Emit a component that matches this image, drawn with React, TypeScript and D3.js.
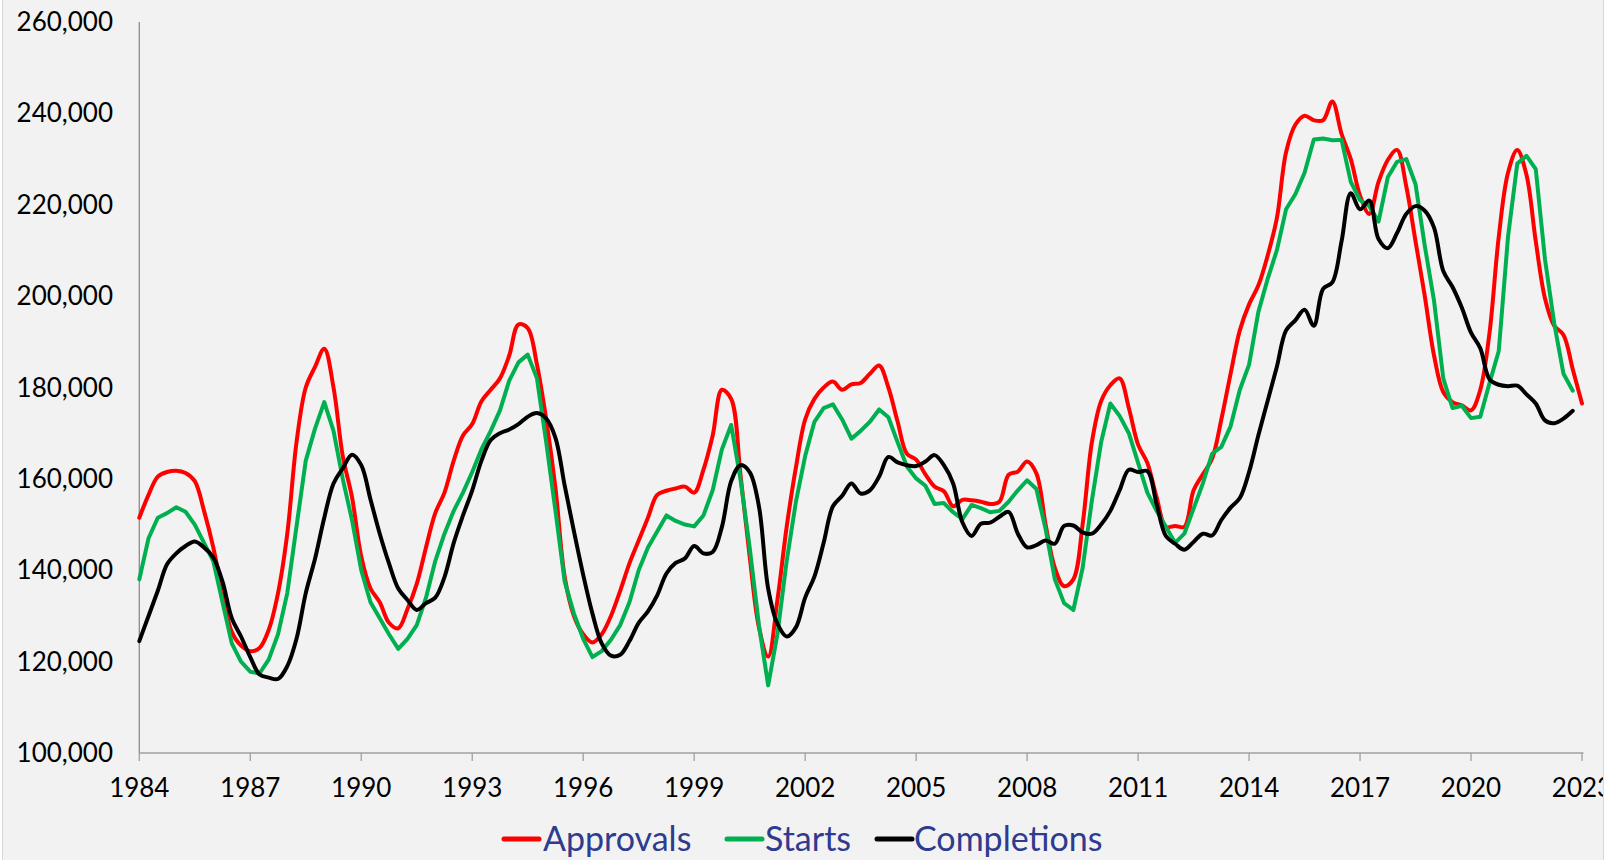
import * as d3 from 'd3';

// quarterly values in thousands, first point = 1984 Q1
const startYear = 1984;

const approvals = [
  151.5, 156.5, 160.5, 161.5,
  161.8, 161.3, 159.5, 153,
  145, 135, 126.5, 123.5,
  122.3, 123, 127, 135,
  148, 168, 180, 184.5,
  188.5, 180, 165, 156,
  143, 136, 133, 128.5,
  127.3, 131.5, 137, 145,
  152.5, 157, 164, 169.5,
  172, 177, 179.5, 182,
  187, 193.8, 193, 185,
  173, 158, 138.5, 130,
  126, 124.2, 126, 130,
  135.5, 141.5, 146.5, 151.5,
  156.5, 157.4, 157.9, 158.3,
  157, 162, 169.5, 179.5,
  177.5, 161, 143, 127.5,
  121.1, 133.5, 149.5, 162.5,
  173, 177.5, 180, 181.3,
  179.5, 180.7, 181, 183,
  184.8, 180, 172.5, 165.5,
  164.2, 161, 158.3, 157.3,
  154, 155.4, 155.3, 155,
  154.5, 155, 160.9, 161.6,
  163.8, 161.2, 150, 140.5,
  136.5, 138, 150, 168,
  177, 180.5, 182, 175.5,
  167.5, 163.5, 156, 149.5,
  149.7, 149.5, 157.5, 161,
  164.4, 173, 183, 192.5,
  198.2, 202.3, 208.8, 217,
  231.5, 237.5, 239.5, 238.5,
  238.5, 242.6, 235.5, 230,
  222, 218, 225, 229.8,
  232, 224, 212, 200,
  187, 179, 176.8, 176.1,
  175, 179.5, 192, 213,
  227, 232, 226.5, 212,
  199.5, 193.5, 191.5, 184,
  176.5,
];

const starts = [
  138, 147, 151.5, 152.5,
  153.8, 152.8, 150, 146,
  142, 133, 124, 120,
  117.8, 117.4, 120.5, 126,
  135, 149.6, 164, 171,
  176.8, 170.5, 160, 151,
  140, 133, 129.5, 126,
  122.8, 125, 128, 134,
  142, 148, 153, 157,
  161.5, 166.5, 170.5, 175,
  181.5, 185.5, 187.2, 182,
  168, 153, 137.5, 130.5,
  125, 121, 122.3, 124.8,
  128, 133, 140, 145,
  148.5, 152, 150.8, 150,
  149.6, 152, 157.5, 166.5,
  171.8, 160, 145, 128,
  114.8, 126, 142, 155,
  165, 172.5, 175.5, 176.3,
  173, 168.8, 170.5, 172.5,
  175.2, 173.5, 168, 162.7,
  160.1, 158.5, 154.5, 154.7,
  152.7, 151.2, 154.3, 153.6,
  152.7, 153, 155, 157.5,
  159.7, 157.8, 149, 138,
  132.8, 131.3, 140.5, 155.2,
  168, 176.5, 173.8, 170,
  163.5, 157, 153, 149.5,
  146, 148, 153.5, 159,
  165.5, 167, 171.5, 179.5,
  185, 196.5, 203.7, 210,
  219, 222.3, 227, 234.3,
  234.5, 234.1, 234.2, 225,
  221, 219.7, 216.3, 226,
  229.4, 230, 224.5, 211,
  199, 182, 175.5, 176,
  173.3, 173.6, 181, 188,
  213, 229, 230.7, 227.8,
  208, 194, 183, 179.3,
];

const completions = [
  124.5, 130, 135.5, 141.3,
  143.7, 145.3, 146.3, 145,
  142.8, 137.5, 129.5, 125.5,
  121, 117.2, 116.5, 116.2,
  119, 125, 135, 142.5,
  151.5, 159, 162.3, 165.3,
  163, 155.5, 148, 141.5,
  136, 133.5, 131.3, 132.8,
  134, 138.5, 146, 152,
  157.5, 164, 168.5, 170,
  170.8, 172, 173.6, 174.4,
  173.2, 169, 158.5, 148.5,
  139, 130.5, 124, 121.3,
  121.5, 124.5, 128.5, 131,
  134.5, 139.3, 141.6, 142.6,
  145.3, 143.7, 144, 149.5,
  159.5, 163, 161.5, 154,
  136, 128.3, 125.5, 127.5,
  134, 138.6, 146, 154,
  156.3, 159, 156.8, 157.5,
  160.5, 164.8, 163.6, 163,
  162.8, 163.8, 165.2, 163,
  159, 150.5, 147.5, 150.2,
  150.4, 151.7, 152.8, 148,
  145, 145.5, 146.5, 145.8,
  149.7, 149.8, 148.3, 148,
  150, 153, 157.5, 162,
  161.5, 161.7, 154.5, 147.5,
  145.8, 144.5, 146.2, 148,
  147.6, 151, 153.7, 155.8,
  161.5, 169.5, 177, 184.5,
  192.5, 194.7, 197, 193.5,
  201.6, 203, 212, 222.5,
  219, 220.9, 212.5, 210.5,
  213.8, 218, 219.7, 218.7,
  215, 205.5, 202, 197.5,
  192, 188.6, 181.8, 180.6,
  180.3, 180.4, 178.5, 176.5,
  172.8, 172.2, 173.2, 174.9,
];

const yearTicks = [1984, 1987, 1990, 1993, 1996, 1999, 2002, 2005, 2008, 2011, 2014, 2017, 2020, 2023];
const valueTicks = [100000, 120000, 140000, 160000, 180000, 200000, 220000, 240000, 260000];

const seriesNames = ['Approvals', 'Starts', 'Completions'];
const seriesColors = ['#ff0000', '#00b050', '#000000'];

export default function App() {
  const width = 1614;
  const height = 860;
  const font = "'Century Gothic', Lato, sans-serif";

  const x = d3.scaleLinear().domain([1984, 2023]).range([139.3, 1582]);
  const y = d3.scaleLinear().domain([100000, 260000]).range([753, 22]);

  const toPoints = (vals: number[]) =>
    vals.map((v, i) => [startYear + i * 0.25, v * 1000] as [number, number]);

  const smooth = d3.line<[number, number]>()
    .x(d => x(d[0]))
    .y(d => y(d[1]))
    .curve(d3.curveCatmullRom.alpha(0.5));
  const straight = d3.line<[number, number]>()
    .x(d => x(d[0]))
    .y(d => y(d[1]));

  const paths = [
    smooth(toPoints(approvals)),
    straight(toPoints(starts)),
    smooth(toPoints(completions)),
  ];

  const fmt = d3.format(',');

  // legend layout
  const legendItems = [
    { line: 504, text: 543 },
    { line: 727, text: 765 },
    { line: 877, text: 914 },
  ];

  return (
    <svg width={width} height={height} style={{ position: 'absolute', left: 0, top: 0 }}>
      <defs>
        <clipPath id="frame">
          <rect x={2} y={0} width={1601} height={height} />
        </clipPath>
      </defs>
      <rect x={0} y={0} width={width} height={height} fill="#ffffff" />
      <g clipPath="url(#frame)">
        <rect x={2} y={0} width={1601} height={height} fill="#f2f2f2" />

        {/* axes */}
        <line x1={x(1984)} x2={x(1984)} y1={y(260000)} y2={y(100000)} stroke="#8c8c8c" strokeWidth={1.3} />
        <line x1={x(1984)} x2={x(2023) + 1.5} y1={y(100000)} y2={y(100000)} stroke="#a0a0a0" strokeWidth={1.5} />
        {yearTicks.map(t => (
          <line key={'xt' + t} x1={x(t)} x2={x(t)} y1={y(100000)} y2={y(100000) + 8} stroke="#a0a0a0" strokeWidth={1.3} />
        ))}
        {yearTicks.map(t => (
          <text key={'xl' + t} x={x(t)} y={797} textAnchor="middle" fontFamily={font} fontSize={26} fill="#000">
            {t}
          </text>
        ))}
        {valueTicks.map(v => (
          <text key={'yl' + v} x={113} y={y(v) + 9} textAnchor="end" fontFamily={font} fontSize={26} fill="#000">
            {fmt(v)}
          </text>
        ))}

        {/* series */}
        {paths.map((p, i) => (
          <path key={seriesNames[i]} d={p || ''} fill="none" stroke={seriesColors[i]} strokeWidth={4}
            strokeLinejoin="round" strokeLinecap="round" />
        ))}

        {/* legend */}
        {seriesNames.map((name, i) => (
          <g key={'lg' + name}>
            <line x1={legendItems[i].line} x2={legendItems[i].line + 35} y1={839} y2={839}
              stroke={seriesColors[i]} strokeWidth={5} strokeLinecap="round" />
            <text x={legendItems[i].text} y={851} fontFamily={font} fontSize={34} fill="#2e3b8e">
              {name}
            </text>
          </g>
        ))}
      </g>
      <line x1={2.5} x2={2.5} y1={0} y2={height} stroke="#d9d9d9" strokeWidth={1} />
      <line x1={1603.5} x2={1603.5} y1={0} y2={height} stroke="#d9d9d9" strokeWidth={1} />
    </svg>
  );
}
